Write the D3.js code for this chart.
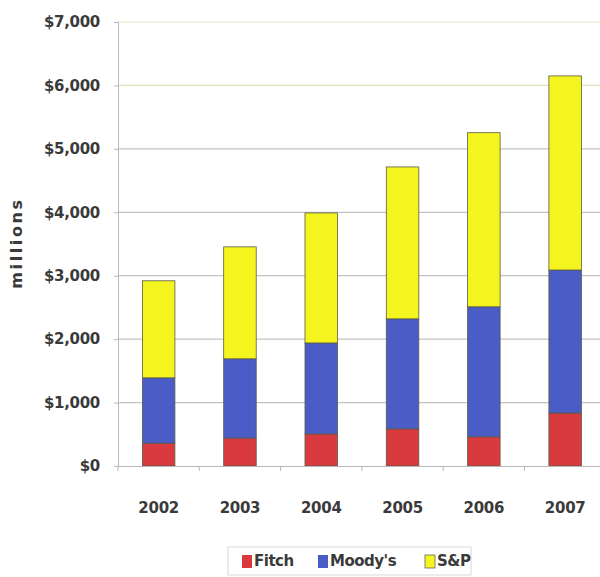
<!DOCTYPE html>
<html lang="en">
<head>
  <meta charset="UTF-8">
  <title>Rating agency revenue</title>
  <style>
    body { margin: 0; background: #fff; }
    svg { display: block; }
    text { font-family: "DejaVu Sans", sans-serif; fill: #3a3a3a; }
    .tick text { font-size: 15px; font-weight: bold; letter-spacing: -0.3px; }
  </style>
</head>
<body>
<svg width="600" height="577"></svg>
<script src="https://cdn.jsdelivr.net/npm/d3@7"></script>
<script>
  const years = ['2002', '2003', '2004', '2005', '2006', '2007'];
  const fitch = [360, 440, 505, 585, 460, 835];
  const moodys = [1030, 1250, 1435, 1735, 2050, 2255];
  const sp = [1530, 1765, 2050, 2395, 2745, 3060];
  const seriesNames = ['Fitch', "Moody's", 'S&P'];
  const yTicks = [0, 1000, 2000, 3000, 4000, 5000, 6000, 7000];

  const colors = ['#d93a3f', '#4a5cc6', '#f4f41e'];

  const svg = d3.select('svg');
  const plotLeft = 118, plotTop = 22, plotBottom = 466, step = 81.3;

  const rows = years.map(function (yr, i) {
    return {year: yr, Fitch: fitch[i], "Moody's": moodys[i], 'S&P': sp[i]};
  });
  const stacked = d3.stack().keys(seriesNames)(rows);

  const x = d3.scaleBand()
    .domain(years)
    .range([plotLeft, plotLeft + step * years.length])
    .paddingInner(0.6)
    .paddingOuter(0.3);

  const y = d3.scaleLinear()
    .domain([0, 7000])
    .range([plotBottom, plotTop]);

  // gridlines
  svg.append('g')
    .selectAll('line')
    .data(yTicks.slice(1))
    .enter()
    .append('line')
    .attr('x1', plotLeft)
    .attr('x2', 600)
    .attr('y1', function (d) { return y(d); })
    .attr('y2', function (d) { return y(d); })
    .attr('stroke', function (d) { return d >= 6000 ? '#dfe5bd' : '#c4c4c4'; })
    .attr('stroke-width', 1.2);

  // bars
  svg.append('g')
    .selectAll('g')
    .data(stacked)
    .enter()
    .append('g')
    .attr('fill', function (d, i) { return colors[i]; })
    .selectAll('rect')
    .data(function (d) { return d; })
    .enter()
    .append('rect')
    .attr('x', function (d) { return x(d.data.year); })
    .attr('width', x.bandwidth())
    .attr('y', function (d) { return y(d[1]); })
    .attr('height', function (d) { return y(d[0]) - y(d[1]); })
    .attr('stroke', '#5a5a4a')
    .attr('stroke-width', 0.8);

  // y axis
  const yAxis = svg.append('g')
    .attr('transform', 'translate(' + plotLeft + ',0)')
    .call(d3.axisLeft(y)
      .tickValues(yTicks)
      .tickSize(4)
      .tickPadding(14)
      .tickFormat(function (d) { return '$' + d3.format(',')(d); }));
  yAxis.select('.domain').attr('stroke', '#b8b8c8');
  yAxis.selectAll('.tick line').attr('stroke', '#b8b8c8');

  // x axis
  const xAxis = svg.append('g')
    .attr('transform', 'translate(0,' + plotBottom + ')')
    .call(d3.axisBottom(x).tickSize(0).tickPadding(36));
  xAxis.select('.domain').attr('stroke', '#b8b8b8');

  // category boundary ticks
  xAxis.append('g')
    .selectAll('line')
    .data(d3.range(years.length + 1))
    .enter()
    .append('line')
    .attr('x1', function (i) { return plotLeft + step * i; })
    .attr('x2', function (i) { return plotLeft + step * i; })
    .attr('y1', 0)
    .attr('y2', 5)
    .attr('stroke', '#b8b8b8');

  svg.append('text')
    .attr('transform', 'translate(22,243) rotate(-90)')
    .attr('text-anchor', 'middle')
    .attr('font-size', 16)
    .attr('font-weight', 'bold')
    .attr('letter-spacing', '2.6px')
    .text('millions');

  // legend
  const legend = svg.append('g');
  legend.append('rect')
    .attr('x', 228).attr('y', 547)
    .attr('width', 243).attr('height', 28)
    .attr('fill', '#fff')
    .attr('stroke', '#d8d8d8');

  const legendX = [242, 318, 425];
  const item = legend.selectAll('.item')
    .data(seriesNames)
    .enter()
    .append('g')
    .attr('class', 'item')
    .attr('transform', function (d, i) { return 'translate(' + legendX[i] + ',561)'; });
  item.append('rect')
    .attr('x', 0).attr('y', -6)
    .attr('width', 10).attr('height', 13)
    .attr('fill', function (d, i) { return colors[i]; })
    .attr('stroke', function (d, i) { return i === 2 ? '#666' : 'none'; })
    .attr('stroke-width', 0.8);
  item.append('text')
    .attr('x', 12)
    .attr('dy', '0.36em')
    .attr('font-size', 15)
    .attr('font-weight', 'bold')
    .attr('letter-spacing', '-0.5px')
    .text(function (d) { return d; });
</script>
</body>
</html>
